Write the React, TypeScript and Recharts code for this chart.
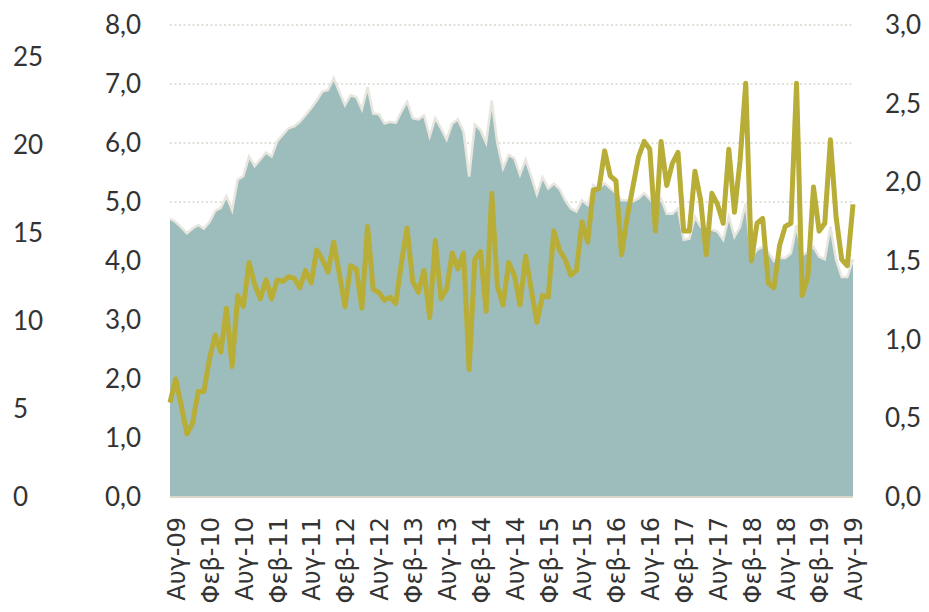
import { Area, CartesianGrid, ComposedChart, Line, XAxis, YAxis } from 'recharts';

// monthly observations, Aug-09 .. Sep-19
const MONTHS = ['Ιαν', 'Φεβ', 'Μαρ', 'Απρ', 'Μαϊ', 'Ιουν', 'Ιουλ', 'Αυγ', 'Σεπ', 'Οκτ', 'Νοε', 'Δεκ'];
const START_MONTH = 7; // Αυγ
const START_YEAR = 2009;

// area series, left inner axis (0 - 8)
const areaValues = [
  4.72, 4.66, 4.57, 4.47, 4.55, 4.61, 4.55, 4.66, 4.85, 4.90,
  5.10, 4.86, 5.38, 5.44, 5.77, 5.61, 5.72, 5.84, 5.77, 6.03,
  6.14, 6.25, 6.28, 6.36, 6.47, 6.59, 6.72, 6.87, 6.90, 7.10,
  6.87, 6.64, 6.81, 6.78, 6.57, 6.95, 6.50, 6.49, 6.33, 6.36,
  6.34, 6.53, 6.70, 6.42, 6.40, 6.47, 6.11, 6.42, 6.25, 6.06,
  6.33, 6.40, 6.19, 5.43, 6.31, 6.22, 6.00, 6.72, 5.99, 5.57,
  5.80, 5.74, 5.46, 5.72, 5.43, 5.13, 5.42, 5.23, 5.31, 5.22,
  5.03, 4.89, 4.84, 5.03, 4.95, 5.29, 5.23, 5.32, 5.23, 5.15,
  5.03, 5.03, 5.01, 5.06, 5.15, 5.05, 4.92, 5.06, 4.80, 4.80,
  4.89, 4.36, 4.38, 4.75, 4.58, 4.53, 4.53, 4.50, 4.36, 4.75,
  4.41, 4.58, 4.98, 4.07, 4.19, 4.24, 4.15, 4.00, 4.05, 4.05,
  4.13, 4.60, 4.10, 4.15, 4.24, 4.07, 4.03, 4.58, 4.02, 3.73,
  3.73, 4.03,
];

// line series, right axis (0 - 3)
const lineValues = [
  0.60, 0.75, 0.58, 0.40, 0.47, 0.67, 0.67, 0.88, 1.03, 0.92,
  1.20, 0.83, 1.28, 1.21, 1.49, 1.35, 1.26, 1.38, 1.26, 1.38,
  1.37, 1.40, 1.39, 1.33, 1.44, 1.36, 1.57, 1.51, 1.43, 1.62,
  1.42, 1.21, 1.47, 1.45, 1.20, 1.72, 1.32, 1.30, 1.25, 1.27,
  1.23, 1.49, 1.71, 1.37, 1.30, 1.44, 1.14, 1.63, 1.26, 1.32,
  1.55, 1.45, 1.55, 0.81, 1.51, 1.56, 1.18, 1.93, 1.34, 1.22,
  1.49, 1.41, 1.22, 1.53, 1.32, 1.11, 1.28, 1.27, 1.69, 1.57,
  1.51, 1.41, 1.44, 1.75, 1.62, 1.95, 1.96, 2.20, 2.04, 2.01,
  1.54, 1.78, 1.97, 2.16, 2.26, 2.21, 1.69, 2.26, 1.98, 2.12,
  2.19, 1.69, 1.69, 2.07, 1.89, 1.54, 1.93, 1.86, 1.74, 2.21,
  1.81, 2.14, 2.63, 1.50, 1.74, 1.77, 1.36, 1.33, 1.60, 1.72,
  1.74, 2.63, 1.28, 1.40, 1.97, 1.69, 1.74, 2.27, 1.78, 1.51,
  1.47, 1.86,
];

const farTicks = [0, 5, 10, 15, 20, 25];
const leftTicks = [0, 1, 2, 3, 4, 5, 6, 7, 8];
const rightTicks = [0, 0.5, 1, 1.5, 2, 2.5, 3];

const categories = areaValues.map((_, i) => {
  const m = (START_MONTH + i) % 12;
  const y = START_YEAR + Math.floor((START_MONTH + i) / 12);
  return `${MONTHS[m]}-${String(y % 100).padStart(2, '0')}`;
});

const data = categories.map((label, i) => ({
  label,
  area: areaValues[i],
  line: lineValues[i],
  far: null,
}));

const fmt = (v: number) => v.toFixed(1).replace('.', ',');

const tickFont = { fontFamily: 'Lato', fontSize: 26, fill: '#333333' };

const FarTick = ({ y, payload }: any) => (
  <text x={13} y={y} dy="0.35em" textAnchor="start" {...tickFont}>
    {payload.value}
  </text>
);

const LeftTick = ({ y, payload }: any) => (
  <text x={141} y={y} dy="0.35em" textAnchor="end" {...tickFont}>
    {fmt(payload.value)}
  </text>
);

const RightTick = ({ x, y, payload }: any) => (
  <text x={x} y={y} dy="0.35em" textAnchor="start" {...tickFont}>
    {fmt(payload.value)}
  </text>
);

const XTick = ({ x, y, payload }: any) => (
  <text
    x={x}
    y={y}
    dy={15}
    transform={`rotate(-90 ${x} ${y})`}
    textAnchor="end"
    fontFamily="DejaVu Sans"
    fontSize={24}
    fill="#333333"
  >
    {payload.value}
  </text>
);

export default function App() {
  return (
    <div style={{ position: 'absolute', left: 0, top: 0, background: '#fff' }}>
      <ComposedChart width={929} height={612} data={data} margin={{ top: 25, right: 0, bottom: 0, left: 0 }}>
        <CartesianGrid
          yAxisId="left"
          vertical={false}
          stroke="#d9d6cc"
          strokeWidth={1.5}
          strokeDasharray="2 2.5"
        />
        <XAxis
          dataKey="label"
          interval={5}
          height={115}
          tickLine={false}
          tickSize={0}
          tickMargin={20}
          axisLine={{ stroke: '#dad6cc', strokeWidth: 2 }}
          tick={<XTick />}
        />
        <YAxis
          yAxisId="far"
          width={60}
          domain={[0, 26.82]}
          ticks={farTicks}
          allowDataOverflow
          axisLine={false}
          tickLine={false}
          tick={<FarTick />}
        />
        <YAxis
          yAxisId="left"
          width={110}
          domain={[0, 8]}
          ticks={leftTicks}
          axisLine={false}
          tickLine={false}
          tick={<LeftTick />}
        />
        <YAxis
          yAxisId="right"
          orientation="right"
          width={76}
          domain={[0, 3]}
          ticks={rightTicks}
          axisLine={false}
          tickLine={false}
          tickSize={0}
          tickMargin={32}
          tick={<RightTick />}
        />
        <Area
          yAxisId="left"
          type="linear"
          dataKey="area"
          fill="#9dbdbc"
          fillOpacity={1}
          stroke="#e8e6de"
          strokeWidth={2.5}
          isAnimationActive={false}
        />
        <Line
          yAxisId="far"
          dataKey="far"
          stroke="none"
          dot={false}
          legendType="none"
          isAnimationActive={false}
        />
        <Line
          yAxisId="right"
          type="linear"
          dataKey="line"
          stroke="#b7ad37"
          strokeWidth={5}
          dot={false}
          strokeLinejoin="round"
          isAnimationActive={false}
        />
      </ComposedChart>
    </div>
  );
}
